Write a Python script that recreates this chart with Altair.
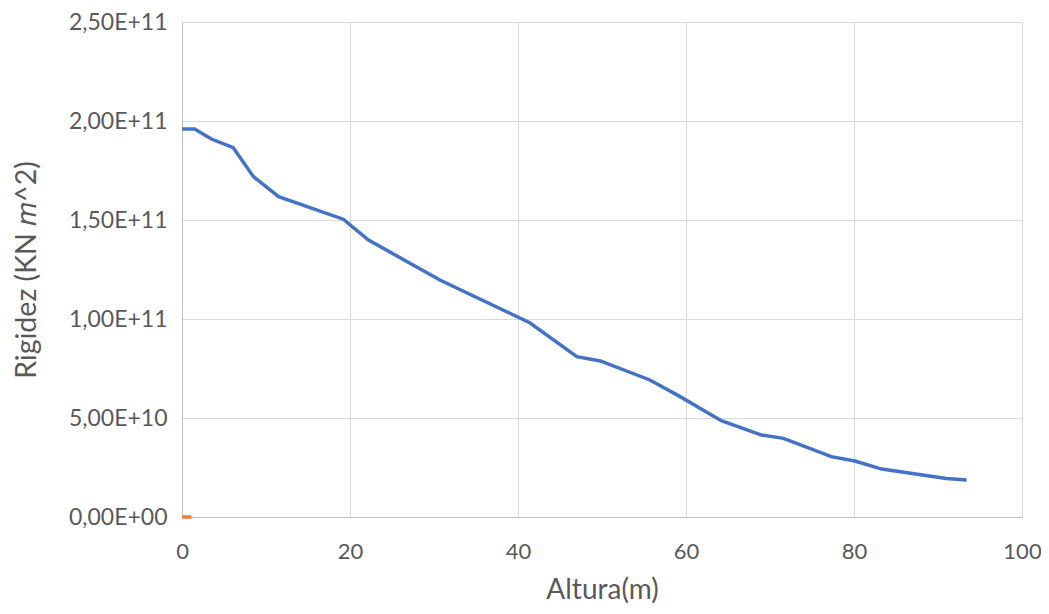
import altair as alt
import pandas as pd

altura = [0, 1.5, 3.5, 6.1, 8.5, 11.5, 19.2, 22.2, 30.7, 41.4, 47.0, 49.8, 55.7, 59.3, 64.2, 69.0, 71.6, 77.3, 80.1, 83.3, 91.0, 93.4]
rigidez = [1.96e11, 1.96e11, 1.909e11, 1.865e11, 1.719e11, 1.618e11, 1.504e11, 1.399e11, 1.197e11, 0.981e11,
           0.81e11, 0.788e11, 0.692e11, 0.608e11, 0.486e11, 0.414e11, 0.397e11, 0.305e11, 0.283e11, 0.242e11,
           0.195e11, 0.187e11]

altura2 = [0, 1.1]
rigidez2 = [0, 0]

df1 = pd.DataFrame({"x": altura, "y": rigidez})
df2 = pd.DataFrame({"x": altura2, "y": rigidez2})

FONT = "Lato"
ylabel = "datum.value == 0 ? '0,00E+00' : upper(replace(format(datum.value, '.2e'), '.', ','))"

xscale = alt.Scale(domain=[0, 100], nice=False)
yscale = alt.Scale(domain=[0, 2.5e11], nice=False)

xaxis = alt.Axis(values=[0, 20, 40, 60, 80, 100], title="Altura(m)", grid=True, gridColor="#d9d9d9",
                 domainColor="#bfbfbf", ticks=False, labelFontSize=22, labelColor="#595959",
                 labelFont=FONT, labelPadding=24, labelFlush=False, titleFont=FONT, titleFontSize=28,
                 titleColor="#595959", titleFontWeight="normal", titlePadding=14)
yaxis = alt.Axis(values=[0, 5e10, 1e11, 1.5e11, 2e11, 2.5e11], title="Rigidez (KN 𝑚^2)", grid=True,
                 gridColor="#d9d9d9", domainColor="#bfbfbf", ticks=False, labelFontSize=23,
                 labelColor="#595959", labelFont=FONT, labelPadding=15, labelFlush=False, labelExpr=ylabel,
                 titleFont=FONT, titleFontSize=28.5, titleColor="#595959", titleFontWeight="normal",
                 titlePadding=27)

line1 = alt.Chart(df1).mark_line(color="#4472C4", strokeWidth=3.5).encode(
    x=alt.X("x:Q", scale=xscale, axis=xaxis),
    y=alt.Y("y:Q", scale=yscale, axis=yaxis),
)
line2 = alt.Chart(df2).mark_line(color="#ED7D31", strokeWidth=3.5).encode(
    x=alt.X("x:Q", scale=xscale),
    y=alt.Y("y:Q", scale=yscale),
)

chart = alt.layer(line1, line2).properties(
    width=840, height=495,
    autosize=alt.AutoSizeParams(type="none"),
    padding={"left": 174, "top": 14, "right": 19, "bottom": 89},
).configure_view(stroke=None).configure(background="white")

chart.save("out.html", embed_options={"renderer": "svg", "actions": False})
